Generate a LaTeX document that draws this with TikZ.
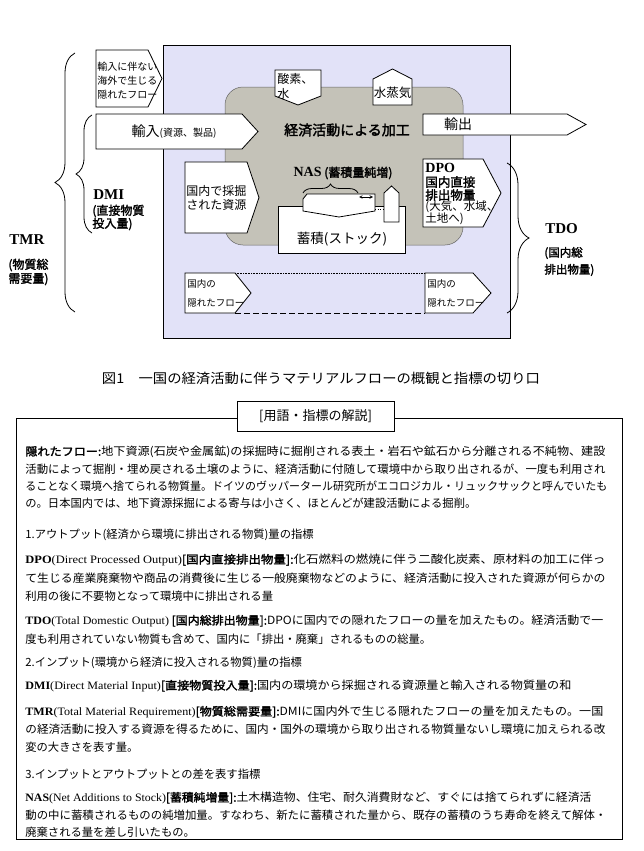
\documentclass[tikz,border=0pt]{standalone}
\usepackage{fontspec}
\usepackage{graphicx}
\setmainfont{Noto Sans CJK JP}[AutoFakeBold=2]
\newfontfamily\tms{Liberation Serif}
\usetikzlibrary{decorations.pathreplacing}
\definecolor{bgblue}{RGB}{226,226,248}
\definecolor{ecogray}{RGB}{196,194,184}
\newcommand{\fsz}[1]{\fontsize{#1}{#1}\selectfont}
\newcommand{\fitw}[2]{\resizebox{#1pt}{\height}{#2}}

\begin{document}
\begin{tikzpicture}[x=1pt,y=-1pt,line width=0.8pt,
  box/.style={draw=black,fill=white},
  lbl/.style={inner sep=0pt},
  lft/.style={inner sep=0pt,anchor=west,align=left},
  txt/.style={inner sep=0pt,anchor=west,font=\fsz{11.3}},
  brc/.style={decorate,decoration={brace,amplitude=#1}},
]
\useasboundingbox (0,0) rectangle (643,851);

% Areas
\draw[fill=bgblue] (163,45) rectangle (510,338);
\draw[fill=ecogray,draw=black!60,line width=0.5pt,rounded corners=18] (225,87) rectangle (463,245);

% Inflows
\draw[box] (96,50) -- (148,50) -- (162,78.5) -- (148,107) -- (96,107) -- cycle;
\node[lft,font=\fontsize{10}{14}\selectfont] (hidabr) at (97,81) {輸入に伴ない\\海外で生じる\\隠れたフロー};
\draw[box] (96,114) -- (242,114) -- (258,131.5) -- (242,149) -- (96,149) -- cycle;
\node[lbl,font=\fsz{14}] (imp) at (174,132) {輸入{\fsz{10}(資源、製品)}};
\draw[box] (185,162) -- (247,162) -- (259,197.5) -- (247,233) -- (185,233) -- cycle;
\node[lft,font=\fontsize{12}{13.5}\selectfont] (domext) at (186,198) {国内で採掘\\された資源};
\draw[box] (275,70) -- (321,70) -- (321,96) -- (298,105) -- (275,96) -- cycle;
\node[lft,font=\fontsize{12}{15}\selectfont] (oxy) at (277,86) {酸素、\\水};

% Outflows
\draw[box] (373,79) -- (392.5,69) -- (412,79) -- (412,105) -- (373,105) -- cycle;
\node[lbl,font=\fsz{12.5}] (steam) at (392.5,93) {水蒸気};
\node[lbl,font=\bfseries\fsz{14}] (econ) at (347,130) {経済活動による加工};
\draw[box] (423,114) -- (567,114) -- (586,124.5) -- (567,135) -- (423,135) -- cycle;
\node[lbl,font=\fsz{14}] (exp) at (458,124.5) {輸出};
\draw[box] (423,159) -- (483,159) -- (501,193) -- (483,227) -- (423,227) -- cycle;
\node[lft,font=\tms\bfseries\fsz{14}] (dpo1) at (425,168) {DPO};
\node[lft,font=\bfseries\fsz{12.5}] (dpo2) at (425,182) {国内直接};
\node[lft,font=\bfseries\fsz{12.5}] (dpo3) at (425,195) {排出物量};
\node[lft,font=\fsz{11.5}] (dpo4) at (425,207) {(大気、水域、};
\node[lft,font=\fsz{11.5}] (dpo5) at (425,219) {土地へ)};

% Stock
\node[lbl,font=\bfseries\fsz{12}] (nas) at (343,173) {{\tms\fsz{14}NAS} (蓄積量純増)};
\draw[box] (278,206) rectangle (405,253);
\node[lbl,font=\fsz{13.5}] (stock) at (342,239) {蓄積(ストック)};
\draw[box] (303,199) -- (307,194) -- (375,194) -- (375,211) -- (339,217) -- (303,211) -- cycle;
\coordinate (nasl) at (303,193);
\coordinate (nasr) at (358,193);
\draw[brc=9] (nasl) -- (nasr);
\coordinate (nasa) at (359,197);
\coordinate (nasb) at (373,197);
\draw[<->,>=stealth,line width=0.6pt] (nasa) -- (nasb);
\draw[box] (384,193) -- (391.5,186) -- (399,193) -- (399,222) -- (384,222) -- cycle;
\coordinate (dis1) at (375,209);
\coordinate (dis2) at (384,209);
\draw[dotted,line width=0.6pt] (dis1) -- (dis2);

% Domestic hidden flows
\draw[box] (185,273) -- (235,273) -- (251,293) -- (235,313) -- (185,313) -- cycle;
\node[lft,font=\fontsize{9.5}{19}\selectfont] (hid1) at (187,293.5) {国内の\\隠れたフロー};
\draw[box] (425,273) -- (473,273) -- (491,293) -- (473,313) -- (425,313) -- cycle;
\node[lft,font=\fontsize{9.5}{19}\selectfont] (hid2) at (427,293.5) {国内の\\隠れたフロー};
\coordinate (hfa) at (235,273);
\coordinate (hfb) at (425,273);
\coordinate (hfc) at (235,313);
\coordinate (hfd) at (425,313);
\draw[densely dotted,line width=0.6pt] (hfa) -- (hfb);
\draw[dash pattern=on 6pt off 3pt,line width=0.6pt] (hfc) -- (hfd);

% Braces
\coordinate (tmrb) at (75,312);
\coordinate (tmrt) at (75,53);
\draw[brc=20] (tmrb) -- (tmrt);
\coordinate (dmib) at (92,233);
\coordinate (dmit) at (92,115);
\draw[brc=16] (dmib) -- (dmit);
\coordinate (tdot) at (507,163);
\coordinate (tdob) at (507,313);
\draw[brc=22] (tdot) -- (tdob);
\node[lft,font=\tms\bfseries\fsz{15}] (tmr) at (9,240) {TMR};
\node[lft,font=\bfseries\fontsize{12}{14}\selectfont] (tmrj) at (8,272) {(物質総\\需要量)};
\node[lft,font=\tms\bfseries\fsz{15}] (dmi) at (93,195) {DMI};
\node[lft,font=\bfseries\fontsize{12}{13}\selectfont] (dmij) at (92,217.5) {(直接物質\\投入量)};
\node[lft,font=\tms\bfseries\fsz{15}] (tdo) at (545,229) {TDO};
\node[lft,font=\bfseries\fontsize{11.5}{17}\selectfont] (tdoj) at (544,261.5) {(国内総\\排出物量)};

% Caption
\node[lbl,font=\fsz{13.5}] (cap) at (321,378) {\fitw{438}{図1\quad 一国の経済活動に伴うマテリアルフローの概観と指標の切り口}};

% Glossary
\draw (16,418) rectangle (622,839);
\node[draw,fill=white,minimum width=157,minimum height=30,inner sep=0pt,font=\fsz{13}] (gloss) at (315.5,416) {[用語・指標の解説]};
\node[txt] (t1) at (25,452) {\fitw{580}{{\bfseries 隠れたフロー:}地下資源(石炭や金属鉱)の採掘時に掘削される表土・岩石や鉱石から分離される不純物、建設}};
\node[txt] (t2) at (25,469) {\fitw{580}{活動によって掘削・埋め戻される土壌のように、経済活動に付随して環境中から取り出されるが、一度も利用され}};
\node[txt] (t3) at (25,486) {\fitw{582}{ることなく環境へ捨てられる物質量。ドイツのヴッパータール研究所がエコロジカル・リュックサックと呼んでいたも}};
\node[txt] (t4) at (25,503) {の。日本国内では、地下資源採掘による寄与は小さく、ほとんどが建設活動による掘削。};
\node[txt] (t5) at (25,535) {1.アウトプット(経済から環境に排出される物質)量の指標};
\node[txt] (t6) at (25,560) {\fitw{580}{{\tms\bfseries DPO}{\tms(Direct Processed Output)}{\bfseries[国内直接排出物量]:}化石燃料の燃焼に伴う二酸化炭素、原材料の加工に伴っ}};
\node[txt] (t7) at (25,578) {\fitw{580}{て生じる産業廃棄物や商品の消費後に生じる一般廃棄物などのように、経済活動に投入された資源が何らかの}};
\node[txt] (t8) at (25,596) {利用の後に不要物となって環境中に排出される量};
\node[txt] (t9) at (25,621) {\fitw{578}{{\tms\bfseries TDO}{\tms(Total Domestic Output)} {\bfseries[国内総排出物量]:}DPOに国内での隠れたフローの量を加えたもの。経済活動で一}};
\node[txt] (t10) at (25,639) {度も利用されていない物質も含めて、国内に「排出・廃棄」されるものの総量。};
\node[txt] (t11) at (25,663) {2.インプット(環境から経済に投入される物質)量の指標};
\node[txt] (t12) at (25,686) {\fitw{546}{{\tms\bfseries DMI}{\tms(Direct Material Input)}{\bfseries[直接物質投入量]:}国内の環境から採掘される資源量と輸入される物質量の和}};
\node[txt] (t13) at (25,712) {\fitw{578}{{\tms\bfseries TMR}{\tms(Total Material Requirement)}{\bfseries[物質総需要量]:}DMIに国内外で生じる隠れたフローの量を加えたもの。一国}};
\node[txt] (t14) at (25,729) {\fitw{580}{の経済活動に投入する資源を得るために、国内・国外の環境から取り出される物質量ないし環境に加えられる改}};
\node[txt] (t15) at (25,747) {変の大きさを表す量。};
\node[txt] (t16) at (25,774) {3.インプットとアウトプットとの差を表す指標};
\node[txt] (t17) at (25,798) {\fitw{566}{{\tms\bfseries NAS}{\tms(Net Additions to Stock)}{\bfseries[蓄積純増量]:}土木構造物、住宅、耐久消費財など、すぐには捨てられずに経済活}};
\node[txt] (t18) at (25,815) {\fitw{581}{動の中に蓄積されるものの純増加量。すなわち、新たに蓄積された量から、既存の蓄積のうち寿命を終えて解体・}};
\node[txt] (t19) at (25,832) {廃棄される量を差し引いたもの。};
\end{tikzpicture}
\end{document}
